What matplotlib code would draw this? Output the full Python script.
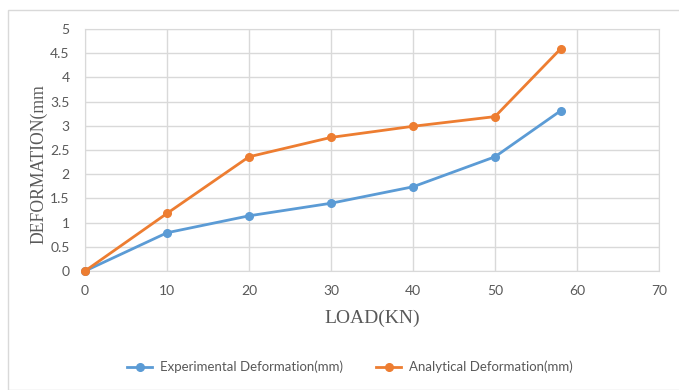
import matplotlib.pyplot as plt
from matplotlib.patches import Rectangle

load = [0, 10, 20, 30, 40, 50, 58]
experimental = [0.0, 0.79, 1.14, 1.40, 1.74, 2.36, 3.31]
analytical = [0.0, 1.19, 2.36, 2.76, 2.99, 3.19, 4.59]

blue = "#5B9BD5"
orange = "#ED7D31"
grid = "#D9D9D9"
text = "#595959"

fig = plt.figure(figsize=(6.79, 3.9), dpi=100)
ax = fig.add_axes([85 / 679, 1 - 271 / 390, 574 / 679, 242 / 390])

# outer chart border (Excel style)
fig.patches.append(Rectangle((8 / 679, 0), 1, 1 - 10 / 390, transform=fig.transFigure,
                             fill=False, edgecolor=grid, linewidth=1))

ax.plot(load, experimental, color=blue, lw=2, marker="o", ms=5.5,
        label="Experimental Deformation(mm)", clip_on=False, zorder=3)
ax.plot(load, analytical, color=orange, lw=2, marker="o", ms=5.5,
        label="Analytical Deformation(mm)", clip_on=False, zorder=3)

ax.set_xlim(0, 70)
ax.set_ylim(0, 5)
ax.set_xticks(range(0, 71, 10))
ax.set_yticks([0, 0.5, 1, 1.5, 2, 2.5, 3, 3.5, 4, 4.5, 5])
ax.set_yticklabels(["0", "0.5", "1", "1.5", "2", "2.5", "3", "3.5", "4", "4.5", "5"])
ax.grid(True, color=grid, lw=1)
ax.set_axisbelow(True)
for s in ax.spines.values():
    s.set_color(grid)
ax.tick_params(length=0, labelsize=10, colors=text)
ax.tick_params(axis="x", pad=10)
ax.tick_params(axis="y", pad=11)
for lab in ax.get_xticklabels() + ax.get_yticklabels():
    lab.set_family("Lato")

ax.set_xlabel("LOAD(KN)", family="Liberation Serif", fontsize=14, color=text, labelpad=9)
fig.text(39 / 679, 1 - 164 / 390, "DEFORMATION(mm", family="Liberation Serif", fontsize=12.7,
         color=text, rotation=90, ha="center", va="center")

leg = fig.legend(loc="center", bbox_to_anchor=(350 / 679, 1 - 367 / 390), ncol=2, frameon=False,
                 prop={"family": "Lato", "size": 9.5}, handlelength=1.9, columnspacing=2.5,
                 handletextpad=0.6)
for t in leg.get_texts():
    t.set_color(text)

fig.savefig("out.png", dpi=100)
